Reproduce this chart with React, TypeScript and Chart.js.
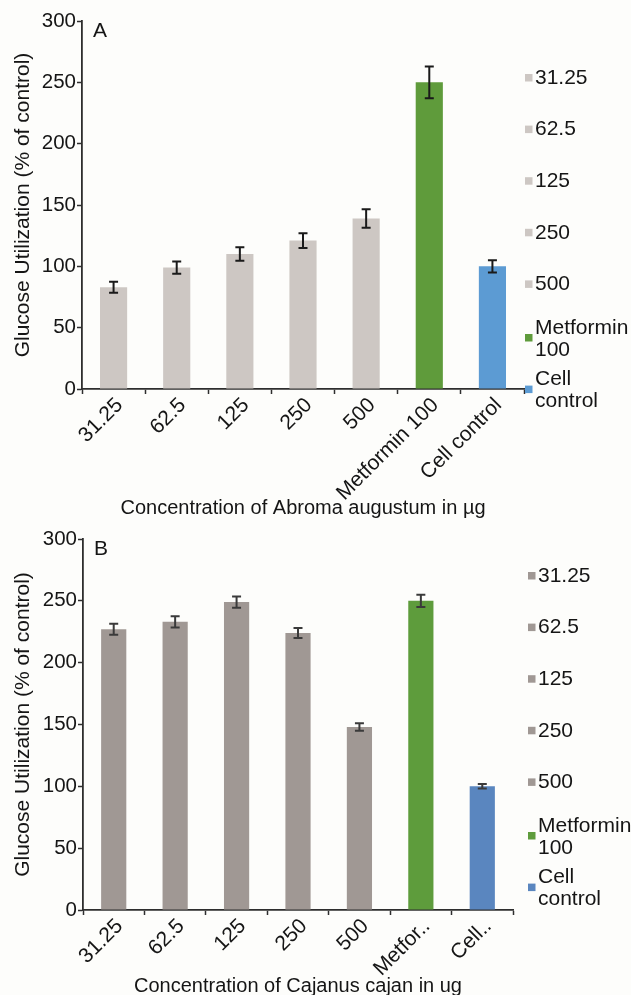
import React, { useEffect, useRef } from "react";
import { Chart, registerables } from "chart.js";

Chart.register(...registerables);

// ---------- data ----------
const categoriesA = ["31.25", "62.5", "125", "250", "500", "Metformin 100", "Cell control"];
const valuesA = [83, 99, 110, 121, 139, 250, 100];
const errorsA = [4.5, 5, 5.5, 6, 7.5, 13, 5];

const categoriesB = ["31.25", "62.5", "125", "250", "500", "Metfor..", "Cell.."];
const valuesB = [227, 233, 249, 224, 148, 250, 100];
const errorsB = [4.5, 4.5, 4.5, 4, 3, 5, 1.8];

const legendLines = [["31.25"], ["62.5"], ["125"], ["250"], ["500"], ["Metformin", "100"], ["Cell", "control"]];

const colorsA = ["#cdc7c3", "#cdc7c3", "#cdc7c3", "#cdc7c3", "#cdc7c3", "#5f9b3b", "#5c9bd3"];
const colorsB = ["#a09894", "#a09894", "#a09894", "#a09894", "#a09894", "#5e9c3c", "#5a86bf"];

const yMin = 0;
const yMax = 300;
const yStep = 50;

const yTitle = "Glucose Utilization (% of control)";
const xTitleA = "Concentration of Abroma augustum in µg";
const xTitleB = "Concentration of Cajanus cajan in ug";

const FONT = "'Liberation Sans', Arial, sans-serif";
const TEXT = "#151515";
const AXIS = "#2e2e2e";

type Props = {
  height: number;
  labels: string[];
  values: number[];
  errors: number[];
  colors: string[];
  xTitle: string;
  panel: string;
  axisWidth: number;
  plotTop: number;
  plotBottom: number;
  plotRight: number;
  barFrac: number;
  titlePadBottom: number;
  legendX: number;
  legendY: number;
  errColor: string;
  capHalf: number;
};

function BarPanel(p: Props) {
  const ref = useRef<HTMLCanvasElement | null>(null);

  useEffect(() => {
    if (!ref.current) return;
    const W = 631;
    const H = p.height;

    const extras = {
      id: "extras" + p.panel,
      afterDatasetsDraw(chart: any) {
        const ctx = chart.ctx;
        const ys = chart.scales.y;
        const meta = chart.getDatasetMeta(0);
        ctx.save();
        ctx.strokeStyle = p.errColor;
        ctx.lineWidth = 2;
        meta.data.forEach((bar: any, i: number) => {
          const x = bar.x;
          const top = ys.getPixelForValue(p.values[i] + p.errors[i]);
          const bot = ys.getPixelForValue(p.values[i] - p.errors[i]);
          ctx.beginPath();
          ctx.moveTo(x, top);
          ctx.lineTo(x, bot);
          ctx.moveTo(x - p.capHalf, top);
          ctx.lineTo(x + p.capHalf, top);
          ctx.moveTo(x - p.capHalf, bot);
          ctx.lineTo(x + p.capHalf, bot);
          ctx.stroke();
        });
        ctx.restore();
      },
      afterDraw(chart: any) {
        const ctx = chart.ctx;
        ctx.save();
        ctx.fillStyle = TEXT;
        ctx.font = `21px ${FONT}`;
        ctx.textBaseline = "middle";
        ctx.textAlign = "left";
        // panel letter
        ctx.fillText(p.panel, chart.chartArea.left + 11, chart.chartArea.top + 10);
        // legend
        const spacing = 51.6;
        const lineH = 22;
        legendLines.forEach((lines, i) => {
          const cy = p.legendY + i * spacing + (lines.length > 1 ? 3 : 0);
          ctx.fillStyle = p.colors[i];
          ctx.fillRect(p.legendX, cy - 4 - (lines.length > 1 ? 1 : 0), 7.5, 7.5);
          ctx.fillStyle = TEXT;
          lines.forEach((t, j) => {
            const ty = cy + (j - (lines.length - 1) / 2) * lineH;
            ctx.fillText(t, p.legendX + 10, ty);
          });
        });
        ctx.restore();
      },
    };

    const chart = new Chart(ref.current, {
      type: "bar",
      data: {
        labels: p.labels,
        datasets: [
          {
            data: p.values,
            backgroundColor: p.colors,
            borderWidth: 0,
            categoryPercentage: 1,
            barPercentage: p.barFrac,
          },
        ],
      },
      options: {
        responsive: false,
        animation: false,
        events: [],
        layout: {
          padding: { top: p.plotTop, right: W - p.plotRight, left: 0, bottom: 0 },
        },
        plugins: {
          legend: { display: false },
          tooltip: { enabled: false },
          title: { display: false },
        },
        scales: {
          x: {
            type: "category",
            offset: true,
            grid: {
              offset: true,
              drawOnChartArea: false,
              drawTicks: true,
              tickLength: 5,
              tickWidth: 1.5,
              tickColor: AXIS,
            },
            border: { display: true, color: AXIS, width: 1.8 },
            ticks: {
              autoSkip: false,
              maxRotation: 45,
              minRotation: 45,
              padding: -1,
              labelOffset: 6,
              color: TEXT,
              font: { family: FONT, size: 21 },
            },
            title: {
              display: true,
              text: p.xTitle,
              color: TEXT,
              font: { family: FONT, size: 20 },
              padding: { top: 0, bottom: p.titlePadBottom },
            },
            afterFit: (s: any) => {
              s.height = H - p.plotBottom;
            },
          },
          y: {
            min: yMin,
            max: yMax,
            grid: {
              drawOnChartArea: false,
              drawTicks: true,
              tickLength: 5,
              tickWidth: 1.5,
              tickColor: AXIS,
            },
            border: { display: true, color: AXIS, width: 1.8 },
            ticks: {
              stepSize: yStep,
              padding: 1,
              color: TEXT,
              font: { family: FONT, size: 20.5 },
            },
            title: {
              display: true,
              text: yTitle,
              color: TEXT,
              font: { family: FONT, size: 21 },
              padding: { top: 11, bottom: 0 },
            },
            afterFit: (s: any) => {
              s.width = p.axisWidth;
            },
          },
        },
      },
      plugins: [extras],
    } as any);

    return () => chart.destroy();
  }, []);

  return <canvas ref={ref} width={631} height={p.height} style={{ display: "block", width: 631, height: p.height }} />;
}

export default function App() {
  return (
    <div style={{ position: "fixed", left: 0, top: 0, width: 631, height: 995, overflow: "hidden", background: "#fdfdfb" }}>
      <div style={{ position: "absolute", left: 0, top: 0 }}>
        <BarPanel
          height={520}
          labels={categoriesA}
          values={valuesA}
          errors={errorsA}
          colors={colorsA}
          xTitle={xTitleA}
          panel="A"
          axisWidth={82}
          plotTop={21}
          plotBottom={389}
          plotRight={524}
          barFrac={0.43}
          titlePadBottom={0}
          legendX={525}
          legendY={78}
          errColor="#1a1a1a"
          capHalf={4.5}
        />
      </div>
      <div style={{ position: "absolute", left: 0, top: 520 }}>
        <BarPanel
          height={480}
          labels={categoriesB}
          values={valuesB}
          errors={errorsB}
          colors={colorsB}
          xTitle={xTitleB}
          panel="B"
          axisWidth={83}
          plotTop={19}
          plotBottom={390}
          plotRight={513}
          barFrac={0.41}
          titlePadBottom={2}
          legendX={528}
          legendY={56}
          errColor="#3a3a3a"
          capHalf={4.5}
        />
      </div>
    </div>
  );
}
